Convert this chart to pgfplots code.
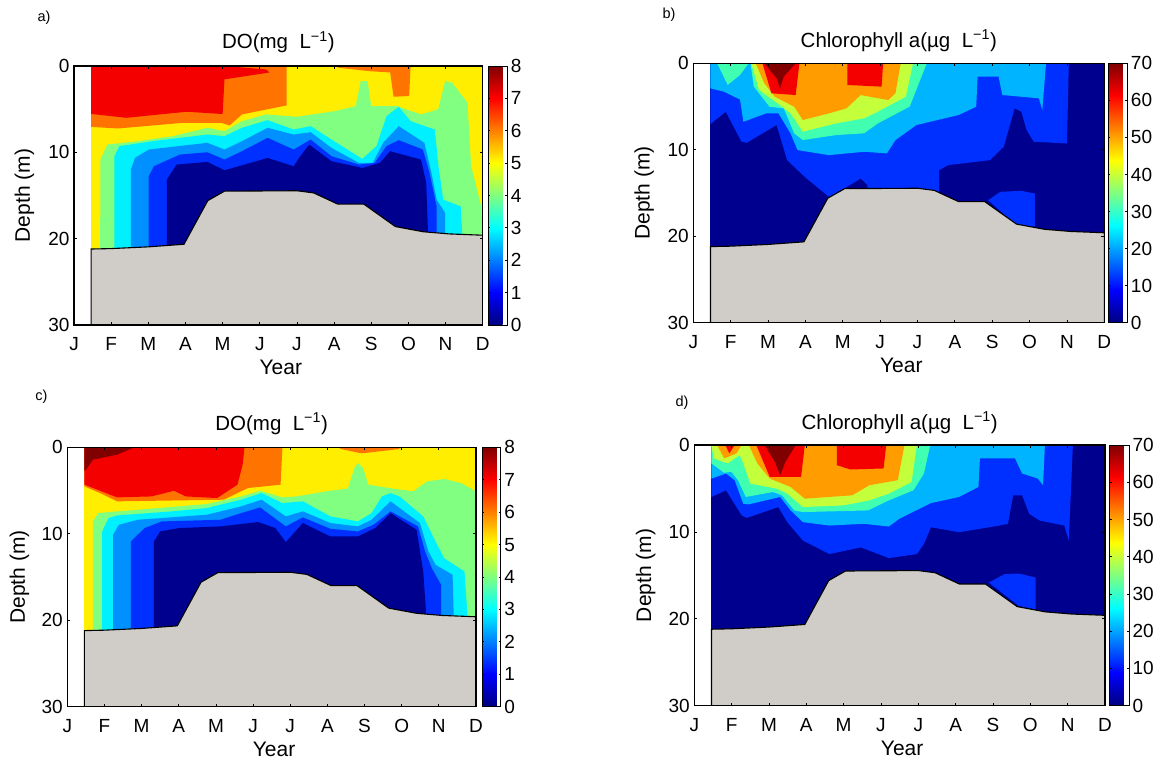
\documentclass[border=0pt]{standalone}
\usepackage{pgfplots}
\usepackage{pgfplotstable}
\usepackage{fontspec}
\setmainfont{Liberation Sans}
\pgfplotsset{compat=1.18}
\definecolor{cNavy}{HTML}{00008F}
\definecolor{cBlue}{HTML}{0030FF}
\definecolor{cLight}{HTML}{0090FF}
\definecolor{cLightB}{HTML}{00B4FF}
\definecolor{cCyan}{HTML}{00F0FF}
\definecolor{cGreen}{HTML}{80FF80}
\definecolor{cTeal}{HTML}{40FFB0}
\definecolor{cLime}{HTML}{C4FF3C}
\definecolor{cYellow}{HTML}{FFEE00}
\definecolor{cOrange}{HTML}{FF7400}
\definecolor{cAmber}{HTML}{FF9C00}
\definecolor{cRed}{HTML}{F40000}
\definecolor{cDark}{HTML}{800000}
\definecolor{cSea}{HTML}{D0CCC8}
\pgfplotstableread{
x y
0.46 21.2
1 21.15
2 20.95
2.96 20.65
3.6 15.6
4.05 14.5
6 14.45
6.45 14.7
7.1 16
7.8 16
8.65 18.6
9.4 19.2
10.1 19.45
11 19.6
11 30
0.46 30
}\seafloor
\pgfplotsset{
  colormap={myjet}{rgb255(0cm)=(0,0,128) rgb255(1cm)=(0,0,255) rgb255(3cm)=(0,255,255) rgb255(5cm)=(255,255,0) rgb255(7cm)=(255,0,0) rgb255(8cm)=(128,0,0)},
  panel/.style={
    scale only axis, axis on top, y dir=reverse,
    xmin=0,xmax=11,ymin=0,ymax=30,
    xtick={0,...,11}, xticklabels={J,F,M,A,M,J,J,A,S,O,N,D},
    ytick={0,10,20,30},
    tick align=inside, major tick length=3pt,
    axis line style={line width=1.3pt}, tick style={line width=0.8pt,black},
    tick label style={font=\fontsize{19}{20}\selectfont,/pgf/number format/assume math mode=true},
    xticklabel style={yshift=-9pt},
    yticklabel style={xshift=-1pt},
    title style={font=\fontsize{20.5}{22}\selectfont,at={(0.5,1)},anchor=base,yshift=11pt},
    xlabel style={font=\fontsize{21}{22}\selectfont,at={(axis description cs:0.506,0)},anchor=base,yshift=-50pt},
    ylabel style={font=\fontsize{21}{22}\selectfont},
    xlabel={Year}, ylabel={Depth (m)},
    colormap name=myjet, colorbar,
  },
  bar/.style n args={4}{
    point meta min=0, point meta max=#1,
    colorbar style={
      width=#2pt, xshift=#3pt,
      ytick={#4}, ymin=0, ymax=#1,
      tick align=inside, major tick length=2pt,
      axis line style={line width=0.6pt},
      yticklabel style={font=\fontsize{19}{20}\selectfont,/pgf/number format/assume math mode=true,xshift=0pt},
    },
  },
}
\begin{document}
\begin{tikzpicture}[x=1pt,y=1pt]
\useasboundingbox (0,0) rectangle (1166,767);

% ---------- a)
\begin{axis}[at={(74pt,442pt)},anchor=south west,width=408.7pt,height=259pt,panel,
  bar={8}{19}{-13}{0,1,...,8},
  title={DO(mg\ \ L\textsuperscript{−1})},
  ylabel style={at={(axis description cs:-0.108,0.5)},anchor=base}]
\addplot[fill=cYellow,draw=none] coordinates {(0.46,0)(11,0)(11,30)(0.46,30)} --cycle;
\addplot[fill=cGreen,draw=none] coordinates {(0.70,30)(0.71,10.84)(0.90,9.1)(1.73,8.7)(2.66,8.13)(3.59,7.16)(4.05,7.55)(4.52,6.39)(5.17,5.61)(6.0,5.88)(7.02,5.23)(7.58,4.65)(7.72,1.74)(7.90,1.74)(8.0,4.65)(8.69,4.65)(9.34,5.61)(9.8,5.03)(9.99,1.74)(10.18,1.94)(10.59,4.26)(10.69,11.6)(10.96,16.26)(11,19.6)(11,30)} --cycle;
\addplot[fill=cCyan,draw=none] coordinates {(1.09,30)(1.09,10.45)(1.22,9.29)(2.11,8.71)(3.59,7.94)(4.05,8.13)(4.52,7.16)(5.21,6.27)(5.91,7.36)(6.37,6.97)(6.93,8.52)(7.76,10.76)(8.14,9.29)(8.41,5.81)(8.74,4.72)(9.06,6.39)(9.71,7.36)(9.81,11.61)(9.94,15.49)(10.41,16.26)(10.45,19.6)(10.45,30)} --cycle;
\addplot[fill=cLight,draw=none] coordinates {(1.53,30)(1.53,12.0)(1.64,10.65)(2.01,9.68)(3.59,8.9)(4.05,9.68)(4.52,8.71)(5.21,7.16)(5.91,7.94)(6.37,7.67)(6.93,9.49)(7.67,11.23)(8.04,11.23)(8.32,8.9)(8.74,6.97)(9.43,8.9)(9.62,12.39)(9.76,15.49)(9.99,17.03)(9.99,19.6)(9.99,30)} --cycle;
\addplot[fill=cBlue,draw=none] coordinates {(2.01,30)(2.01,12.78)(2.15,11.61)(2.85,10.26)(3.59,9.99)(4.05,10.84)(4.52,9.87)(5.21,8.32)(5.91,9.68)(6.37,8.52)(6.93,10.45)(7.67,11.42)(8.09,11.23)(8.41,9.29)(8.74,8.59)(9.39,9.68)(9.57,12.39)(9.76,16.26)(9.76,19.6)(9.76,30)} --cycle;
\addplot[fill=cNavy,draw=none] coordinates {(2.5,30)(2.5,13.16)(2.76,11.42)(3.59,11.11)(4.05,12.08)(5.21,10.65)(5.91,11.61)(6.09,10.45)(6.33,9.1)(6.93,11.03)(7.76,11.81)(8.23,11.23)(8.51,9.87)(9.34,10.84)(9.48,13.55)(9.53,19.6)(9.53,30)} --cycle;
\addplot[fill=cOrange,draw=none] coordinates {(0.46,0)(5.72,0)(5.72,4.57)(4.52,5.61)(4.19,6.89)(3.96,6.58)(2.94,6.58)(1.18,7.24)(0.46,7.05)} --cycle;
\addplot[fill=cRed,draw=none] coordinates {(0.46,0)(4.05,0)(5.17,0.4)(5.26,0.75)(4.05,1.55)(4.0,5.56)(3.03,5.3)(1.41,6.0)(0.46,5.55)} --cycle;
\addplot[fill=cOrange,draw=none] coordinates {(7.11,0)(7.11,0.2)(7.95,0.6)(8.51,0.75)(8.6,3.56)(9.02,3.48)(9.06,0)} --cycle;
\addplot[fill=cSea,draw=black,line width=1.1pt] table[x=x,y=y] {\seafloor} --cycle;
\end{axis}

% ---------- b)
\begin{axis}[at={(693.3pt,444.3pt)},anchor=south west,width=411pt,height=259.4pt,panel,
  bar={70}{19.4}{-15}{0,10,...,70},
  title={Chlorophyll a(µg\ \ L\textsuperscript{−1})},
  title style={yshift=-1pt},
  ylabel style={at={(axis description cs:-0.106,0.5)},anchor=base}]
\addplot[fill=cNavy,draw=none] coordinates {(0.46,0)(11,0)(11,30)(0.46,30)} --cycle;
\addplot[fill=cBlue,draw=none] coordinates {(0.46,0)(0.46,7.03)(0.87,5.6)(1.29,9.07)(1.43,9.19)(2.23,7.14)(2.51,11.2)(2.98,13.13)(3.63,15.44)(4.19,14.09)(4.48,13.32)(4.66,14.09)(4.66,16)(6.58,16)(6.58,12.36)(6.82,11.78)(7.94,11.2)(8.31,9.65)(8.6,5.21)(8.78,5.6)(8.92,7.72)(9.11,9.07)(10,9.27)(10.05,0)} --cycle;
\addplot[fill=cLightB,draw=none] coordinates {(0.46,0)(0.46,2.9)(0.82,3.28)(1.25,4.2)(1.34,6.76)(1.95,5.79)(2.28,5.79)(2.6,8.1)(2.79,10.04)(3.63,10.62)(4.57,10.23)(5.18,10.42)(5.41,8.88)(5.97,7.14)(7.1,5.98)(7.57,5.02)(7.61,1.54)(8.17,1.54)(8.27,3.67)(9.25,4.05)(9.34,5.41)(9.44,0)} --cycle;
\addplot[fill=cTeal,draw=none] coordinates {(0.64,0)(0.92,2.5)(1.25,1.35)(1.48,0)} --cycle;
\addplot[fill=cTeal,draw=none] coordinates {(1.53,0)(1.62,2.7)(2.04,5.02)(2.42,5.21)(2.7,8.1)(2.93,8.88)(3.82,8.3)(4.57,8.1)(4.94,6.95)(5.79,5.02)(6.25,0)} --cycle;
\addplot[fill=cLime,draw=none] coordinates {(1.55,0)(1.76,3.09)(2.32,4.83)(2.6,5.79)(2.93,7.91)(3.82,6.95)(4.57,6.37)(4.85,5.79)(5.69,3.86)(5.88,0)} --cycle;
\addplot[fill=cAmber,draw=none] coordinates {(1.67,0)(1.9,2.32)(2.18,3.86)(2.7,5.02)(2.93,6.56)(3.63,5.79)(4.1,5.21)(4.48,3.67)(5.22,4.25)(5.41,3.47)(5.55,0)} --cycle;
\addplot[fill=cRed,draw=none] coordinates {(1.85,0)(2.09,3.47)(2.74,3.67)(2.84,0)} --cycle;
\addplot[fill=cRed,draw=none] coordinates {(4.12,0)(4.12,2.51)(5.04,2.7)(5.08,0)} --cycle;
\addplot[fill=cDark,draw=none] coordinates {(1.9,0)(2.23,1.74)(2.32,2.9)(2.42,1.54)(2.74,0)} --cycle;
\addplot[fill=cBlue,draw=none] coordinates {(7.89,15.83)(8.22,14.86)(8.78,14.75)(9.14,15.06)(9.14,18.9)(8.69,18.9)} --cycle;
\addplot[fill=cSea,draw=black,line width=1.1pt] table[x=x,y=y] {\seafloor} --cycle;
\end{axis}

% ---------- c)
\begin{axis}[at={(67.3pt,60.3pt)},anchor=south west,width=408.7pt,height=259.4pt,panel,
  bar={8}{18.3}{-12.3}{0,1,...,8},
  title={DO(mg\ \ L\textsuperscript{−1})},
  ylabel style={at={(axis description cs:-0.1035,0.5)},anchor=base}]
\addplot[fill=cYellow,draw=none] coordinates {(0.46,0)(11,0)(11,30)(0.46,30)} --cycle;
\addplot[fill=cGreen,draw=none] coordinates {(0.69,30)(0.69,8.6)(0.83,7.6)(1.9,7.22)(3.75,6.56)(4.68,5.68)(5.19,5.02)(5.79,5.79)(6.16,5.68)(7.08,5.02)(7.55,4.79)(7.73,2.39)(7.82,1.81)(7.96,2.39)(8.1,4.32)(8.66,4.71)(9.31,5.1)(9.68,3.94)(10.14,3.67)(10.6,4.13)(11,5.1)(11,30)} --cycle;
\addplot[fill=cCyan,draw=none] coordinates {(0.94,30)(0.94,9.73)(1.11,8.19)(1.34,7.88)(2.82,7.41)(3.75,7.03)(4.68,6.06)(5.23,5.29)(5.79,6.45)(6.34,6.25)(7.08,7.99)(7.82,8.57)(8.19,7.61)(8.47,5.68)(8.7,5.29)(8.94,5.68)(9.58,7.99)(9.91,10.89)(10.14,12.82)(10.69,14.36)(10.77,19.4)(10.77,30)} --cycle;
\addplot[fill=cLight,draw=none] coordinates {(1.23,30)(1.23,10.12)(1.39,8.96)(1.9,8.38)(3.75,7.8)(4.68,6.83)(5.23,6.06)(5.88,7.99)(6.34,7.41)(7.08,8.76)(7.82,9.15)(8.19,8.38)(8.7,6.25)(9.49,8.76)(9.72,12.05)(9.91,13.59)(10.37,14.75)(10.4,19.4)(10.4,30)} --cycle;
\addplot[fill=cBlue,draw=none] coordinates {(1.71,30)(1.71,10.89)(2.08,9.34)(2.55,8.57)(4.12,8.38)(4.68,7.61)(5.19,6.95)(5.88,9.15)(6.34,8.11)(7.08,9.42)(7.82,9.73)(8.24,8.96)(8.7,7.41)(9.44,9.15)(9.63,12.05)(9.81,13.98)(10.06,15.9)(10.06,19.4)(10.06,30)} --cycle;
\addplot[fill=cNavy,draw=none] coordinates {(2.33,30)(2.33,10.89)(2.5,9.73)(3.01,9.34)(4.12,9.15)(5.14,8.65)(5.6,9.34)(5.88,10.97)(6.34,8.76)(7.08,10.31)(7.82,10.31)(8.29,9.34)(8.7,7.61)(9.4,9.54)(9.58,14.36)(9.66,19.4)(9.66,30)} --cycle;
\addplot[fill=cOrange,draw=none] coordinates {(0.46,0)(5.79,0)(5.74,4.32)(4.86,4.71)(4.21,6.06)(1.34,6.25)(0.88,5.29)(0.46,4.52)} --cycle;
\addplot[fill=cRed,draw=none] coordinates {(0.46,0)(4.77,0)(4.72,2.0)(4.58,4.32)(4.03,5.87)(3.19,5.68)(2.87,5.02)(2.27,5.68)(1.34,5.79)(0.46,4.32)} --cycle;
\addplot[fill=cDark,draw=none] coordinates {(0.46,0)(1.81,0)(1.34,0.85)(0.69,1.43)(0.5,2.59)(0.46,2.7)} --cycle;
\addplot[fill=cOrange,draw=none] coordinates {(7.31,0)(7.36,0.2)(7.92,0.7)(8.94,0.2)(8.94,0)} --cycle;
\addplot[fill=cSea,draw=black,line width=1.1pt] table[x=x,y=y] {\seafloor} --cycle;
\end{axis}

% ---------- d)
\begin{axis}[at={(694.3pt,61.3pt)},anchor=south west,width=410.7pt,height=260.7pt,panel,
  bar={70}{19.3}{-14}{0,10,...,70},
  title={Chlorophyll a(µg\ \ L\textsuperscript{−1})},
  title style={yshift=-1pt},
  ylabel style={at={(axis description cs:-0.105,0.5)},anchor=base}]
\addplot[fill=cNavy,draw=none] coordinates {(0.46,0)(11,0)(11,30)(0.46,30)} --cycle;
\addplot[fill=cBlue,draw=none] coordinates {(0.46,0)(0.46,5.98)(0.85,5.21)(1.27,8.11)(1.41,8.38)(2.25,7.14)(2.49,8.88)(2.91,11.0)(3.62,12.55)(4.46,11.78)(5.21,13.01)(5.96,12.55)(6.15,11.39)(6.34,9.46)(7.09,10.04)(8.17,9.27)(8.4,9.07)(8.54,5.79)(8.78,5.79)(8.97,7.92)(9.25,8.69)(9.91,9.27)(10.03,11)(10.14,0)} --cycle;
\addplot[fill=cLightB,draw=none] coordinates {(0.46,0)(0.46,3.86)(0.85,3.28)(1.08,4.05)(1.31,6.76)(1.46,6.83)(2.3,5.98)(2.58,7.53)(2.91,8.88)(3.62,9.27)(4.55,9.07)(5.21,9.38)(5.49,8.49)(6.34,6.68)(7.09,5.98)(7.61,4.83)(7.65,1.54)(8.59,1.54)(8.78,3.28)(9.2,3.86)(9.34,4.63)(9.39,0)} --cycle;
\addplot[fill=cTeal,draw=none] coordinates {(0.46,0)(0.46,2.12)(0.8,3.2)(0.99,3.09)(1.17,4.05)(1.38,5.98)(2.11,5.41)(2.35,5.79)(2.68,7.53)(2.91,7.72)(4.65,7.53)(5.21,6.37)(5.87,5.21)(6.15,3.28)(6.32,0)} --cycle;
\addplot[fill=cLime,draw=none] coordinates {(0.46,0)(0.52,1.54)(0.89,2.12)(1.22,1.16)(1.31,2.12)(1.5,4.44)(2.21,5.02)(2.49,5.6)(2.91,7.14)(3.99,6.95)(4.69,6.37)(5.21,5.6)(5.82,4.25)(5.96,0)} --cycle;
\addplot[fill=cAmber,draw=none] coordinates {(0.61,0)(0.8,1.54)(1.13,0.97)(1.27,0)} --cycle;
\addplot[fill=cAmber,draw=none] coordinates {(1.46,0)(1.69,2.12)(2.02,3.86)(2.58,4.83)(2.96,6.18)(4.23,5.79)(4.69,4.63)(5.45,4.05)(5.63,0)} --cycle;
\addplot[fill=cRed,draw=none] coordinates {(0.83,0)(0.94,0.97)(1.08,0)} --cycle;
\addplot[fill=cRed,draw=none] coordinates {(1.66,0)(2.02,3.67)(2.86,3.67)(2.96,0)} --cycle;
\addplot[fill=cRed,draw=none] coordinates {(3.82,0)(3.82,2.32)(4.18,2.82)(5.07,2.7)(5.14,0)} --cycle;
\addplot[fill=cDark,draw=none] coordinates {(1.88,0)(2.16,1.93)(2.3,3.47)(2.44,1.93)(2.72,0)} --cycle;
\addplot[fill=cBlue,draw=none] coordinates {(7.89,15.83)(8.31,14.86)(8.69,14.79)(9.14,15.25)(9.14,18.92)(8.69,18.53)} --cycle;
\addplot[fill=cSea,draw=black,line width=1.1pt] table[x=x,y=y] {\seafloor} --cycle;
\end{axis}

\node[font=\fontsize{14.5}{15}\selectfont] at (44,749) {a)};
\node[font=\fontsize{14.5}{15}\selectfont] at (669,752) {b)};
\node[font=\fontsize{14.5}{15}\selectfont] at (41.5,370) {c)};
\node[font=\fontsize{14.5}{15}\selectfont] at (682,364) {d)};
\end{tikzpicture}
\end{document}
